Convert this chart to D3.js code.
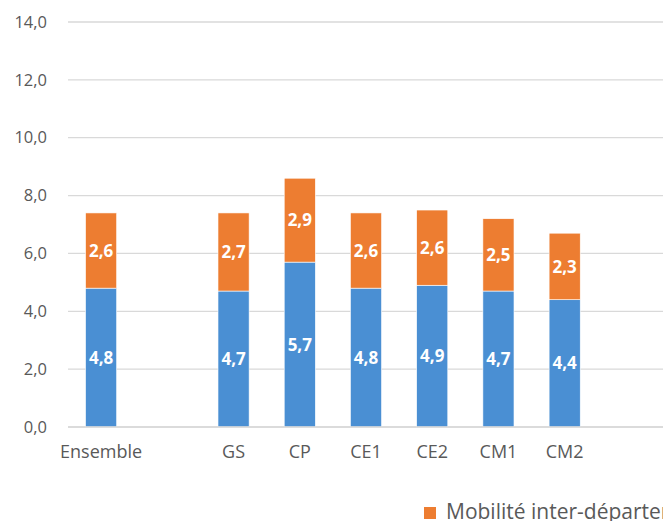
<!DOCTYPE html>
<html lang="fr">
<head>
    <meta charset="UTF-8">
    <title>Mobilité - barres empilées</title>
    <script src="https://d3js.org/d3.v7.min.js"></script>
    <style>
        html, body {
            margin: 0;
            background: #fff;
            overflow: hidden;
        }
        svg { display: block; }
        .tick text { fill: #595959; }
    </style>
</head>
<body>
<div id="vis"></div>
<script>
    // data
    var categories = ["Ensemble", "", "GS", "CP", "CE1", "CE2", "CM1", "CM2", " "];
    var intraValues = [4.8, null, 4.7, 5.7, 4.8, 4.9, 4.7, 4.4, null];
    var interValues = [2.6, null, 2.7, 2.9, 2.6, 2.6, 2.5, 2.3, null];
    var yTicks = [0, 2, 4, 6, 8, 10, 12, 14];
    var legendLabels = ["Mobilité inter-départementale", "Mobilité intra-départementale"];

    var W = 663, H = 521;
    var margin = {top: 22, left: 68, right: -1, bottom: 94};
    var width = W - margin.left - margin.right;
    var height = H - margin.top - margin.bottom;

    var blue = "#4a8fd3", orange = "#ed7d31", grey = "#595959";
    var font = "'Open Sans', sans-serif";

    var svg = d3.select("#vis").append("svg")
        .attr("width", W).attr("height", H)
        .style("font-family", font);

    var g = svg.append("g")
        .attr("transform", "translate(" + margin.left + "," + margin.top + ")");

    var x = d3.scaleBand().domain(categories).range([0, width]).paddingInner(0.53).paddingOuter(0.265);
    var y = d3.scaleLinear().domain([0, 14]).range([height, 0]);
    var fmt = function(v) { return v.toFixed(1).replace(".", ","); };

    // gridlines
    g.selectAll(".grid").data(yTicks).enter().append("line")
        .attr("x1", 0).attr("x2", width + 5)
        .attr("y1", function(d){ return y(d); })
        .attr("y2", function(d){ return y(d); })
        .attr("stroke", "#d9d9d9").attr("stroke-width", 1.3);

    // y axis labels
    var yAxis = d3.axisLeft(y).tickValues(yTicks).tickFormat(fmt).tickSize(0).tickPadding(21);
    g.append("g").call(yAxis)
        .call(function(s){ s.select(".domain").remove(); })
        .selectAll("text").style("font-size", "16.5px").style("font-family", font);

    // x axis labels
    var xAxis = d3.axisBottom(x).tickSize(0).tickPadding(18);
    g.append("g").attr("transform", "translate(0," + height + ")").call(xAxis)
        .call(function(s){ s.select(".domain").remove(); })
        .selectAll("text").style("font-size", "18px").style("font-family", font);

    var rows = categories.map(function(c, i){
        return {cat: c, intra: intraValues[i], inter: interValues[i]};
    }).filter(function(d){ return d.intra != null; });

    // blue segment
    g.selectAll(".intra").data(rows).enter().append("rect")
        .attr("x", function(d){ return x(d.cat); })
        .attr("width", x.bandwidth())
        .attr("y", function(d){ return y(d.intra); })
        .attr("height", function(d){ return y(0) - y(d.intra); })
        .attr("fill", blue).attr("stroke", "#fff").attr("stroke-width", 0.6);

    // orange segment
    g.selectAll(".inter").data(rows).enter().append("rect")
        .attr("x", function(d){ return x(d.cat); })
        .attr("width", x.bandwidth())
        .attr("y", function(d){ return y(d.intra + d.inter); })
        .attr("height", function(d){ return y(d.intra) - y(d.intra + d.inter); })
        .attr("fill", orange).attr("stroke", "#fff").attr("stroke-width", 0.6);

    // x axis line on top of bars
    g.append("line").attr("x1", 0).attr("x2", width + 5)
        .attr("y1", y(0)).attr("y2", y(0))
        .attr("stroke", "#d9d9d9").attr("stroke-width", 1.3);

    // data labels
    g.selectAll(".lab-intra").data(rows).enter().append("text")
        .attr("x", function(d){ return x(d.cat) + x.bandwidth() / 2; })
        .attr("y", function(d){ return y(d.intra / 2); })
        .attr("dy", "0.36em").attr("text-anchor", "middle")
        .attr("fill", "#fff").style("font-weight", "bold").style("font-size", "17px")
        .text(function(d){ return fmt(d.intra); });

    g.selectAll(".lab-inter").data(rows).enter().append("text")
        .attr("x", function(d){ return x(d.cat) + x.bandwidth() / 2; })
        .attr("y", function(d){ return y(d.intra + d.inter / 2); })
        .attr("dy", "0.36em").attr("text-anchor", "middle")
        .attr("fill", "#fff").style("font-weight", "bold").style("font-size", "17px")
        .text(function(d){ return fmt(d.inter); });

    // legend (runs off the right edge, as in the original)
    var leg = svg.append("g").attr("transform", "translate(424,507)");
    leg.append("rect").attr("width", 12).attr("height", 12).attr("fill", orange);
    leg.append("text").attr("x", 22).attr("y", 12)
        .attr("fill", grey).style("font-size", "21px")
        .text(legendLabels[0]);
</script>
</body>
</html>
